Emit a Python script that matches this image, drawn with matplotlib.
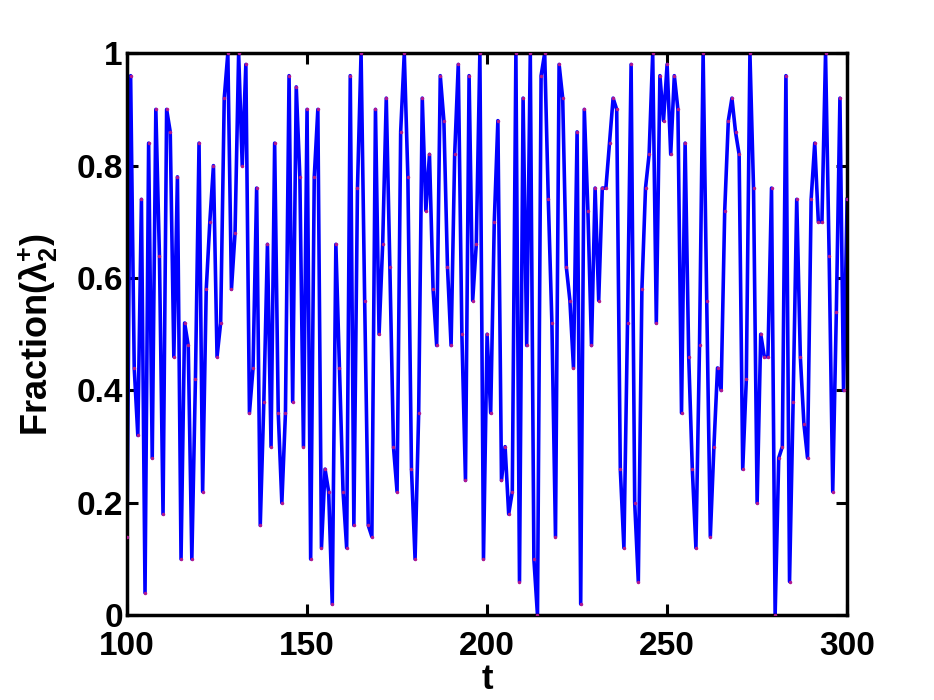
import matplotlib
matplotlib.use("Agg")
import matplotlib.pyplot as plt
import numpy as np

t_start = 100
t_end = 300
fraction = [
    0.14, 0.96, 0.44, 0.32, 0.74, 0.04, 0.84, 0.28, 0.90, 0.64,  # 100-109
    0.18, 0.90, 0.86, 0.46, 0.78, 0.10, 0.52, 0.48, 0.10, 0.42,  # 110-119
    0.84, 0.22, 0.58, 0.70, 0.80, 0.46, 0.52, 0.92, 1.00, 0.58,  # 120-129
    0.68, 1.00, 0.80, 0.98, 0.36, 0.44, 0.76, 0.16, 0.38, 0.66,  # 130-139
    0.30, 0.84, 0.36, 0.20, 0.36, 0.96, 0.38, 0.94, 0.78, 0.30,  # 140-149
    0.90, 0.10, 0.78, 0.90, 0.12, 0.26, 0.22, 0.02, 0.66, 0.44,  # 150-159
    0.22, 0.12, 0.96, 0.16, 0.76, 1.00, 0.56, 0.16, 0.14, 0.90,  # 160-169
    0.50, 0.66, 0.92, 0.62, 0.30, 0.22, 0.86, 1.00, 0.78, 0.26,  # 170-179
    0.10, 0.36, 0.92, 0.72, 0.82, 0.58, 0.48, 0.96, 0.88, 0.62,  # 180-189
    0.48, 0.82, 0.98, 0.50, 0.24, 0.96, 0.56, 0.66, 1.00, 0.10,  # 190-199
    0.50, 0.36, 0.70, 0.88, 0.24, 0.30, 0.18, 0.22, 1.00, 0.06,  # 200-209
    0.92, 0.48, 1.00, 0.10, 0.00, 0.96, 1.00, 0.74, 0.52, 0.14,  # 210-219
    0.98, 0.92, 0.62, 0.56, 0.44, 0.86, 0.02, 0.90, 0.72, 0.48,  # 220-229
    0.76, 0.56, 0.76, 0.76, 0.84, 0.92, 0.90, 0.26, 0.12, 0.52,  # 230-239
    0.98, 0.20, 0.06, 0.58, 0.76, 0.82, 1.00, 0.52, 0.96, 0.88,  # 240-249
    0.98, 0.82, 0.96, 0.90, 0.36, 0.84, 0.46, 0.26, 0.12, 0.48,  # 250-259
    1.00, 0.56, 0.14, 0.30, 0.44, 0.40, 0.72, 0.88, 0.92, 0.86,  # 260-269
    0.82, 0.26, 0.42, 1.00, 0.76, 0.20, 0.50, 0.46, 0.46, 0.76,  # 270-279
    0.00, 0.28, 0.30, 0.96, 0.06, 0.38, 0.74, 0.46, 0.34, 0.28,  # 280-289
    0.74, 0.84, 0.70, 0.70, 1.00, 0.64, 0.22, 0.54, 0.92, 0.40,  # 290-299
    0.74,                                                        # 300
]
t = np.arange(t_start, t_start + len(fraction))

x_ticks = [100, 150, 200, 250, 300]
y_ticks = [0, 0.2, 0.4, 0.6, 0.8, 1.0]
y_tick_labels = ["0", "0.2", "0.4", "0.6", "0.8", "1"]

plt.rcParams['font.family'] = ['Liberation Sans', 'DejaVu Sans']
plt.rcParams['mathtext.fontset'] = 'custom'
plt.rcParams['mathtext.rm'] = 'Liberation Sans:bold'
plt.rcParams['mathtext.it'] = 'Liberation Sans:bold'
plt.rcParams['mathtext.bf'] = 'Liberation Sans:bold'

fig = plt.figure(figsize=(9.34, 7.0), dpi=100)
ax = fig.add_axes([0.136, 0.121, 0.771, 0.803])

ax.plot(t, fraction, color=(0, 0, 1), lw=2.6, zorder=2)
ax.plot(t, fraction, linestyle='none', marker='.', markersize=3,
        color='#b01890', zorder=3)

ax.set_xlim(100, 300)
ax.set_ylim(0, 1)
ax.set_xticks(x_ticks)
ax.set_yticks(y_ticks)
ax.set_yticklabels(y_tick_labels)

for s in ax.spines.values():
    s.set_linewidth(2.5)
ax.tick_params(direction='in', length=8, width=2.2, top=True, right=True,
               labelsize=24)
ax.tick_params(axis='x', pad=11)
ax.tick_params(axis='y', pad=3)
for lab in ax.get_xticklabels() + ax.get_yticklabels():
    lab.set_fontweight('bold')

ax.set_xlabel('t', fontsize=25, fontweight='bold', labelpad=1)
ax.set_ylabel(r'Fraction($\mathrm{\lambda}_2^{+}$)', fontsize=26,
              fontweight='bold', labelpad=12)

fig.savefig('out.png', dpi=100)
